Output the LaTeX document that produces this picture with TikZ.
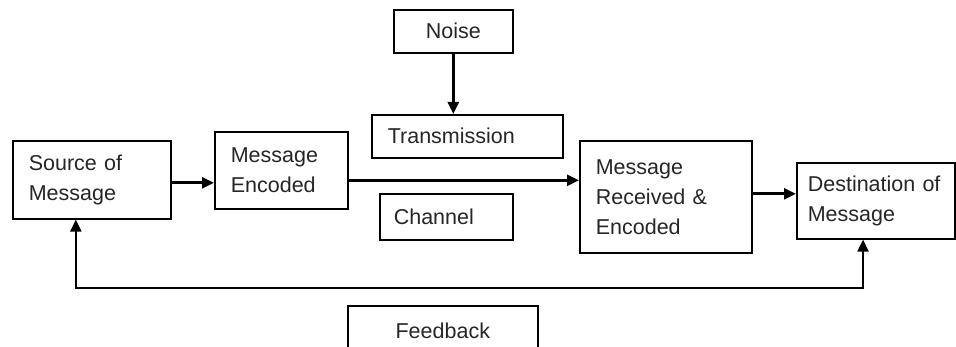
\documentclass[tikz,border=0pt]{standalone}
\usepackage{fontspec}
\setmainfont{Liberation Sans}
\usetikzlibrary{arrows.meta,calc}
\begin{document}
\begin{tikzpicture}[x=1pt,y=-1pt,
  box/.style={draw=black, line width=1.6pt, rectangle, anchor=north west,
    align=left, font=\fontsize{21.5}{30}\selectfont, text=black!85, inner ysep=0pt},
  cbox/.style={draw=black, line width=1.6pt, rectangle, anchor=north west,
    align=center, font=\fontsize{21.5}{30}\selectfont, text=black!85, inner sep=0pt},
  arr/.style={line width=2.6pt, -{Triangle[length=12pt,width=11pt]}},
  fb/.style={line width=2.2pt, {Triangle[length=12pt,width=11pt]}-{Triangle[length=12pt,width=11pt]}}
]
\clip (0,0) rectangle (956,347);
\fill[white] (0,0) rectangle (956,347);
% boxes
\node[box, inner xsep=16pt, text width=126pt, minimum height=78pt] (src) at (12,140) {Source of\\Message};
\node[box, inner xsep=16pt, text width=101pt, minimum height=77pt] (enc) at (214,131) {Message\\Encoded};
\node[cbox, minimum width=119pt, minimum height=43pt] (noise) at (393,9) {Noise};
\node[box, inner xsep=16pt, text width=159pt, minimum height=43pt] (trans) at (371,114) {Transmission};
\node[box, inner xsep=14pt, text width=105pt, minimum height=46pt] (chan) at (379,193) {Channel};
\node[box, inner xsep=16pt, text width=140pt, minimum height=112pt] (rec) at (579,140) {Message\\Received \&\\Encoded};
\node[box, inner xsep=11pt, text width=136pt, minimum height=76pt] (dst) at (796,162) {Destination of\\Message};
\node[cbox, minimum width=190pt, minimum height=50pt] (feed) at (347,305) {Feedback};
% connectors
\draw[arr] (noise) -- (noise |- trans.north);
\draw[arr] ($(src.east)+(0,3)$) coordinate (s1) -- (s1 -| enc.west);
\draw[arr] ($(enc.east)+(0,10)$) coordinate (e1) -- (e1 -| rec.west);
\draw[arr] ($(rec.east)+(0,-3)$) coordinate (r1) -- (r1 -| dst.west);
\coordinate (fbl) at (0,288);
\coordinate (sa) at ($(src.south west)!0.4!(src.south east)$);
\coordinate (da) at ($(dst.south west)!0.42!(dst.south east)$);
\draw[fb] (sa) -- (sa |- fbl) -- (da |- fbl) -- (da);
\end{tikzpicture}
\end{document}
